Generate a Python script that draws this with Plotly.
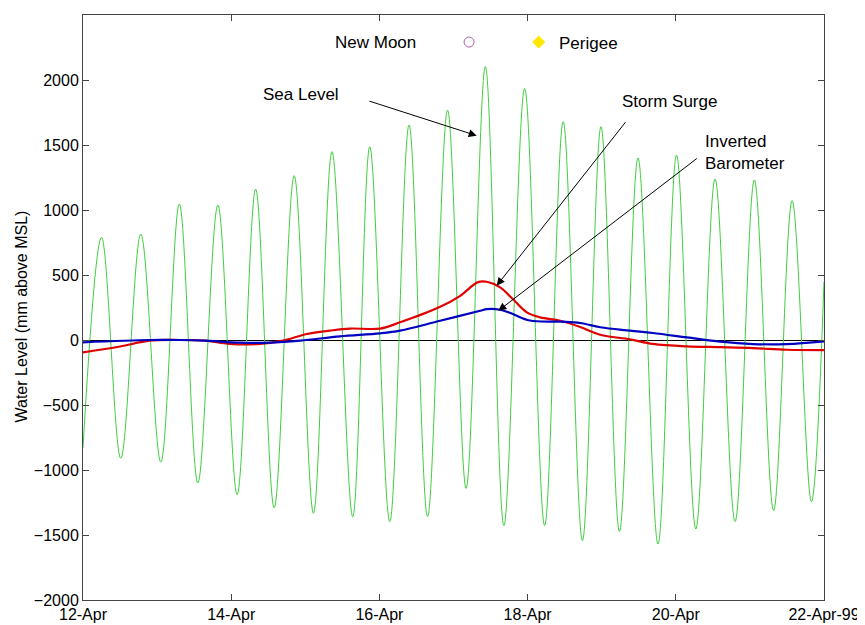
import pandas as pd
import plotly.graph_objects as go

# ---- data (days after 12-Apr-1999 00:00, values in mm above MSL) ----
sea_days = [0.00, 0.25, 0.51, 0.78, 1.05, 1.30, 1.55, 1.82, 2.08, 2.33, 2.58, 2.85,
            3.11, 3.36, 3.64, 3.87, 4.14, 4.40, 4.65, 4.92, 5.17, 5.43, 5.68, 5.96,
            6.23, 6.48, 6.74, 6.99, 7.24, 7.49, 7.76, 8.01, 8.27, 8.53, 8.80, 9.06,
            9.32, 9.57, 9.83, 10.00]
sea_level = [-830, 790, -910, 815, -940, 1046, -1100, 1038, -1190, 1161, -1290, 1264,
             -1333, 1449, -1360, 1487, -1397, 1654, -1359, 1769, -1141, 2103, -1428, 1936,
             -1428, 1680, -1544, 1641, -1474, 1400, -1570, 1423, -1454, 1238, -1397, 1231,
             -1313, 1072, -1244, 450]

surge_days = [0.00, 0.50, 0.90, 1.31, 1.65, 1.98, 2.39, 2.70, 3.02, 3.33, 3.60, 4.01,
              4.28, 4.82, 5.09, 5.33, 5.45, 5.63, 5.80, 5.99, 6.17, 6.44, 6.71, 6.98,
              7.38, 7.69, 8.15, 8.60, 9.04, 9.50, 10.00]
storm_surge = [-95, -50, -5, 0, -5, -30, -30, -5, 46, 72, 88, 88,
               136, 255, 340, 445, 448, 405, 315, 213, 174, 148, 100, 40,
               5, -30, -49, -55, -62, -75, -78]

baro_days = [0.00, 0.90, 1.31, 1.65, 2.12, 2.52, 2.93, 3.47, 4.01, 4.28, 4.82, 5.36,
             5.45, 5.63, 5.80, 6.03, 6.44, 6.71, 6.98, 7.38, 7.69, 8.15, 8.60, 9.04,
             9.50, 10.00]
inv_barometer = [-18, 0, 0, -5, -20, -20, -5, 28, 51, 72, 148, 225,
                 238, 233, 200, 150, 141, 131, 98, 72, 54, 20, -13, -31,
                 -31, -10]

event_days = [5.21, 6.15]
event_levels = [2292, 2292]
event_names = ["New Moon", "Perigee"]

tick_days = [0, 2, 4, 6, 8, 10]
tick_labels = ["12-Apr", "14-Apr", "16-Apr", "18-Apr", "20-Apr", "22-Apr-99"]

base = pd.Timestamp("1999-04-12")


def to_dates(days):
    return [base + pd.to_timedelta(d, unit="D") for d in days]


def d(day):
    return (base + pd.to_timedelta(day, unit="D")).strftime("%Y-%m-%d %H:%M:%S")


FONT = "Liberation Sans, Arial, sans-serif"

fig = go.Figure()
fig.add_trace(go.Scatter(x=to_dates(sea_days), y=sea_level, mode="lines",
                         line=dict(color="#3fcf3f", width=1, shape="spline", smoothing=1.0),
                         name="Sea Level"))
fig.add_trace(go.Scatter(x=to_dates(surge_days), y=storm_surge, mode="lines",
                         line=dict(color="#e00000", width=2.2, shape="spline"),
                         name="Storm Surge"))
fig.add_trace(go.Scatter(x=to_dates(baro_days), y=inv_barometer, mode="lines",
                         line=dict(color="#0000c0", width=2.2, shape="spline"),
                         name="Inverted Barometer"))
fig.add_trace(go.Scatter(x=to_dates(event_days[:1]), y=event_levels[:1], mode="markers",
                         marker=dict(symbol="circle-open", size=10, color="#b060b0", line=dict(width=1)),
                         name=event_names[0]))
fig.add_trace(go.Scatter(x=to_dates(event_days[1:]), y=event_levels[1:], mode="markers",
                         marker=dict(symbol="diamond", size=10, color="#ffe800"),
                         name=event_names[1]))

annos = []
# text labels
for txt, day, val in [("Sea Level", 2.40, 1885), ("New Moon", 3.37, 2292),
                      ("Perigee", 6.40, 2277), ("Storm Surge", 7.25, 1831),
                      ("Inverted<br>Barometer", 8.37, 1442)]:
    annos.append(dict(x=d(day), y=val, xref="x", yref="y", text=txt, showarrow=False,
                      xanchor="left", yanchor="middle", align="left",
                      font=dict(family=FONT, size=17, color="black")))
# arrows (tail -> head)
for (tx, ty), (hx, hy) in [((3.846, 1841), (5.313, 1572)),
                           ((7.337, 1687), (5.583, 418)),
                           ((8.304, 1405), (5.605, 225))]:
    annos.append(dict(x=d(hx), y=hy, ax=d(tx), ay=ty, xref="x", yref="y",
                      axref="x", ayref="y", text="", showarrow=True,
                      arrowhead=2, arrowsize=1.6, arrowwidth=1, arrowcolor="black"))
# y-axis title (placed slightly above the plot centre, as in the original)
annos.append(dict(text="Water Level (mm above MSL)", textangle=-90, showarrow=False,
                  xref="paper", yref="paper", x=-0.083, y=0.4855,
                  xanchor="center", yanchor="middle",
                  font=dict(family=FONT, size=16, color="black")))

# page body has an 8px margin: size the figure so the plot area lands on
# x 83..824, y 15..600 of the 865x625 window
fig.update_layout(
    width=857, height=617,
    margin=dict(l=75, r=41, t=7, b=25, pad=0),
    paper_bgcolor="white", plot_bgcolor="white",
    showlegend=False,
    font=dict(family=FONT, size=16, color="black"),
    annotations=annos,
)
fig.update_xaxes(
    range=[base, base + pd.Timedelta(days=10)],
    tickvals=to_dates(tick_days), ticktext=tick_labels,
    ticks="inside", ticklen=6, tickcolor="#444", showgrid=False,
    showline=True, linecolor="#444", linewidth=1, mirror="allticks",
    tickfont=dict(family=FONT, size=16), automargin=False,
)
fig.update_yaxes(
    range=[-2000, 2500], dtick=500, tick0=0,
    ticks="inside", ticklen=6, tickcolor="#444", showgrid=False,
    showline=True, linecolor="#444", linewidth=1, mirror="allticks",
    zeroline=True, zerolinecolor="black", zerolinewidth=1,
    tickfont=dict(family=FONT, size=16), automargin=False,
)

fig.write_html("out.html")
